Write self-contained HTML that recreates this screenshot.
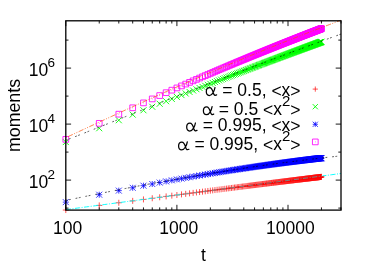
<!DOCTYPE html>
<html><head><meta charset="utf-8"><title>moments</title>
<style>html,body{margin:0;padding:0;background:#fff;}body{width:382px;height:267px;overflow:hidden;}svg{display:block;filter:blur(0.3px);}text{font-family:"Liberation Sans",sans-serif;fill:#000;}</style>
</head><body>
<svg width="382" height="267" viewBox="0 0 382 267">
<rect width="382" height="267" fill="#fff"/>
<path d="M62.80 210.06H68.80M65.80 207.06V213.06M96.24 205.42H102.24M99.24 202.42V208.42M115.81 202.75H121.81M118.81 199.75V205.75M129.69 200.87H135.69M132.69 197.87V203.87M140.46 199.43H146.46M143.46 196.43V202.43M149.25 198.25H155.25M152.25 195.25V201.25M156.69 197.27H162.69M159.69 194.27V200.27M163.13 196.41H169.13M166.13 193.41V199.41M168.82 195.66H174.82M171.82 192.66V198.66M173.90 195.00H179.90M176.90 192.00V198.00M178.50 194.39H184.50M181.50 191.39V197.39M182.70 193.85H188.70M185.70 190.85V196.85M186.56 193.34H192.56M189.56 190.34V196.34M190.13 192.88H196.13M193.13 189.88V195.88M193.46 192.45H199.46M196.46 189.45V195.45M196.58 192.04H202.58M199.58 189.04V195.04M199.50 191.66H205.50M202.50 188.66V194.66M202.26 191.31H208.26M205.26 188.31V194.31M204.87 190.97H210.87M207.87 187.97V193.97M207.34 190.65H213.34M210.34 187.65V193.65M209.70 190.35H215.70M212.70 187.35V193.35M211.94 190.06H217.94M214.94 187.06V193.06M214.09 189.79H220.09M217.09 186.79V192.79M216.14 189.53H222.14M219.14 186.53V192.53M218.11 189.28H224.11M221.11 186.28V192.28M220.00 189.03H226.00M223.00 186.03V192.03M221.82 188.80H227.82M224.82 185.80V191.80M223.58 188.58H229.58M226.58 185.58V191.58M225.27 188.36H231.27M228.27 185.36V191.36M226.91 188.16H232.91M229.91 185.16V191.16M228.49 187.96H234.49M231.49 184.96V190.96M230.02 187.76H236.02M233.02 184.76V190.76M231.51 187.57H237.51M234.51 184.57V190.57M232.95 187.39H238.95M235.95 184.39V190.39M234.35 187.21H240.35M237.35 184.21V190.21M235.71 187.04H241.71M238.71 184.04V190.04M237.03 186.88H243.03M240.03 183.88V189.88M238.31 186.71H244.31M241.31 183.71V189.71M239.57 186.56H245.57M242.57 183.56V189.56M240.79 186.40H246.79M243.79 183.40V189.40M241.98 186.25H247.98M244.98 183.25V189.25M243.14 186.11H249.14M246.14 183.11V189.11M244.28 185.96H250.28M247.28 182.96V188.96M245.39 185.82H251.39M248.39 182.82V188.82M246.47 185.69H252.47M249.47 182.69V188.69M247.53 185.55H253.53M250.53 182.55V188.55M248.57 185.42H254.57M251.57 182.42V188.42M249.59 185.30H255.59M252.59 182.30V188.30M250.58 185.17H256.58M253.58 182.17V188.17M251.56 185.05H257.56M254.56 182.05V188.05M252.51 184.93H258.51M255.51 181.93V187.93M253.45 184.81H259.45M256.45 181.81V187.81M254.37 184.70H260.37M257.37 181.70V187.70M255.27 184.59H261.27M258.27 181.59V187.59M256.15 184.48H262.15M259.15 181.48V187.48M257.02 184.37H263.02M260.02 181.37V187.37M257.88 184.26H263.88M260.88 181.26V187.26M258.72 184.16H264.72M261.72 181.16V187.16M259.54 184.06H265.54M262.54 181.06V187.06M260.35 183.95H266.35M263.35 180.95V186.95M261.15 183.86H267.15M264.15 180.86V186.86M261.93 183.76H267.93M264.93 180.76V186.76M262.71 183.66H268.71M265.71 180.66V186.66M263.47 183.57H269.47M266.47 180.57V186.57M264.21 183.48H270.21M267.21 180.48V186.48M264.95 183.38H270.95M267.95 180.38V186.38M265.68 183.29H271.68M268.68 180.29V186.29M266.39 183.21H272.39M269.39 180.21V186.21M267.10 183.12H273.10M270.10 180.12V186.12M267.79 183.03H273.79M270.79 180.03V186.03M268.47 182.95H274.47M271.47 179.95V185.95M269.15 182.86H275.15M272.15 179.86V185.86M269.82 182.78H275.82M272.82 179.78V185.78M270.47 182.70H276.47M273.47 179.70V185.70M271.12 182.62H277.12M274.12 179.62V185.62M271.76 182.54H277.76M274.76 179.54V185.54M272.39 182.46H278.39M275.39 179.46V185.46M273.01 182.39H279.01M276.01 179.39V185.39M273.63 182.31H279.63M276.63 179.31V185.31M274.23 182.24H280.23M277.23 179.24V185.24M274.83 182.16H280.83M277.83 179.16V185.16M275.42 182.09H281.42M278.42 179.09V185.09M276.01 182.02H282.01M279.01 179.02V185.02M276.59 181.95H282.59M279.59 178.95V184.95M277.16 181.88H283.16M280.16 178.88V184.88M277.72 181.81H283.72M280.72 178.81V184.81M278.28 181.74H284.28M281.28 178.74V184.74M278.83 181.67H284.83M281.83 178.67V184.67M279.38 181.60H285.38M282.38 178.60V184.60M279.92 181.54H285.92M282.92 178.54V184.54M280.45 181.47H286.45M283.45 178.47V184.47M280.98 181.41H286.98M283.98 178.41V184.41M281.50 181.34H287.50M284.50 178.34V184.34M282.01 181.28H288.01M285.01 178.28V184.28M282.53 181.22H288.53M285.53 178.22V184.22M283.03 181.16H289.03M286.03 178.16V184.16M283.53 181.10H289.53M286.53 178.10V184.10M284.03 181.03H290.03M287.03 178.03V184.03M284.52 180.97H290.52M287.52 177.97V183.97M285.00 180.92H291.00M288.00 177.92V183.92M285.48 180.86H291.48M288.48 177.86V183.86M285.96 180.80H291.96M288.96 177.80V183.80M286.43 180.74H292.43M289.43 177.74V183.74M286.89 180.68H292.89M289.89 177.68V183.68M287.35 180.63H293.35M290.35 177.63V183.63M287.81 180.57H293.81M290.81 177.57V183.57M288.26 180.52H294.26M291.26 177.52V183.52M288.71 180.46H294.71M291.71 177.46V183.46M289.16 180.41H295.16M292.16 177.41V183.41M289.60 180.35H295.60M292.60 177.35V183.35M290.04 180.30H296.04M293.04 177.30V183.30M290.47 180.25H296.47M293.47 177.25V183.25M290.90 180.20H296.90M293.90 177.20V183.20M291.32 180.14H297.32M294.32 177.14V183.14M291.74 180.09H297.74M294.74 177.09V183.09M292.16 180.04H298.16M295.16 177.04V183.04M292.58 179.99H298.58M295.58 176.99V182.99M292.99 179.94H298.99M295.99 176.94V182.94M293.39 179.89H299.39M296.39 176.89V182.89M293.80 179.84H299.80M296.80 176.84V182.84M294.20 179.79H300.20M297.20 176.79V182.79M294.59 179.75H300.59M297.59 176.75V182.75M294.99 179.70H300.99M297.99 176.70V182.70M295.38 179.65H301.38M298.38 176.65V182.65M295.77 179.60H301.77M298.77 176.60V182.60M296.15 179.56H302.15M299.15 176.56V182.56M296.53 179.51H302.53M299.53 176.51V182.51M296.91 179.46H302.91M299.91 176.46V182.46M297.29 179.42H303.29M300.29 176.42V182.42M297.66 179.37H303.66M300.66 176.37V182.37M298.03 179.33H304.03M301.03 176.33V182.33M298.40 179.28H304.40M301.40 176.28V182.28M298.76 179.24H304.76M301.76 176.24V182.24M299.12 179.20H305.12M302.12 176.20V182.20M299.48 179.15H305.48M302.48 176.15V182.15M299.84 179.11H305.84M302.84 176.11V182.11M300.19 179.07H306.19M303.19 176.07V182.07M300.54 179.02H306.54M303.54 176.02V182.02M300.89 178.98H306.89M303.89 175.98V181.98M301.23 178.94H307.23M304.23 175.94V181.94M301.58 178.90H307.58M304.58 175.90V181.90M301.92 178.86H307.92M304.92 175.86V181.86M302.26 178.82H308.26M305.26 175.82V181.82M302.59 178.78H308.59M305.59 175.78V181.78M302.93 178.73H308.93M305.93 175.73V181.73M303.26 178.69H309.26M306.26 175.69V181.69M303.59 178.66H309.59M306.59 175.66V181.66M303.92 178.62H309.92M306.92 175.62V181.62M304.24 178.58H310.24M307.24 175.58V181.58M304.56 178.54H310.56M307.56 175.54V181.54M304.88 178.50H310.88M307.88 175.50V181.50M305.20 178.46H311.20M308.20 175.46V181.46M305.52 178.42H311.52M308.52 175.42V181.42M305.83 178.38H311.83M308.83 175.38V181.38M306.15 178.35H312.15M309.15 175.35V181.35M306.46 178.31H312.46M309.46 175.31V181.31M306.76 178.27H312.76M309.76 175.27V181.27M307.07 178.23H313.07M310.07 175.23V181.23M307.38 178.20H313.38M310.38 175.20V181.20M307.68 178.16H313.68M310.68 175.16V181.16M307.98 178.13H313.98M310.98 175.13V181.13M308.28 178.09H314.28M311.28 175.09V181.09M308.57 178.05H314.57M311.57 175.05V181.05M308.87 178.02H314.87M311.87 175.02V181.02M309.16 177.98H315.16M312.16 174.98V180.98M309.45 177.95H315.45M312.45 174.95V180.95M309.74 177.91H315.74M312.74 174.91V180.91M310.03 177.88H316.03M313.03 174.88V180.88M310.32 177.84H316.32M313.32 174.84V180.84M310.60 177.81H316.60M313.60 174.81V180.81M310.89 177.78H316.89M313.89 174.78V180.78M311.17 177.74H317.17M314.17 174.74V180.74M311.45 177.71H317.45M314.45 174.71V180.71M311.73 177.67H317.73M314.73 174.67V180.67M312.00 177.64H318.00M315.00 174.64V180.64M312.28 177.61H318.28M315.28 174.61V180.61M312.55 177.58H318.55M315.55 174.58V180.58M312.82 177.54H318.82M315.82 174.54V180.54M313.09 177.51H319.09M316.09 174.51V180.51M313.36 177.48H319.36M316.36 174.48V180.48M313.63 177.45H319.63M316.63 174.45V180.45M313.89 177.41H319.89M316.89 174.41V180.41M314.16 177.38H320.16M317.16 174.38V180.38M314.42 177.35H320.42M317.42 174.35V180.35M314.68 177.32H320.68M317.68 174.32V180.32M314.94 177.29H320.94M317.94 174.29V180.29M315.20 177.26H321.20M318.20 174.26V180.26M315.46 177.23H321.46M318.46 174.23V180.23M315.71 177.20H321.71M318.71 174.20V180.20M315.97 177.16H321.97M318.97 174.16V180.16M316.22 177.13H322.22M319.22 174.13V180.13M316.47 177.10H322.47M319.47 174.10V180.10M316.73 177.07H322.73M319.73 174.07V180.07M316.97 177.04H322.97M319.97 174.04V180.04M317.22 177.01H323.22M320.22 174.01V180.01M317.47 176.99H323.47M320.47 173.99V179.99M317.72 176.96H323.72M320.72 173.96V179.96M317.96 176.93H323.96M320.96 173.93V179.93M318.20 176.90H324.20M321.20 173.90V179.90M318.44 176.87H324.44M321.44 173.87V179.87M312.70 89.10H317.90M315.30 86.50V91.70" fill="none" stroke="#ff0000" stroke-width="0.68"/>
<path d="M62.80 139.07L68.80 145.07M62.80 145.07L68.80 139.07M96.24 125.24L102.24 131.24M96.24 131.24L102.24 125.24M115.81 117.24L121.81 123.24M115.81 123.24L121.81 117.24M129.69 111.61L135.69 117.61M129.69 117.61L135.69 111.61M140.46 107.27L146.46 113.27M140.46 113.27L146.46 107.27M149.25 103.75L155.25 109.75M149.25 109.75L155.25 103.75M156.69 100.77L162.69 106.77M156.69 106.77L162.69 100.77M163.13 98.21L169.13 104.21M163.13 104.21L169.13 98.21M168.82 95.95L174.82 101.95M168.82 101.95L174.82 95.95M173.90 93.94L179.90 99.94M173.90 99.94L179.90 93.94M178.50 92.12L184.50 98.12M178.50 98.12L184.50 92.12M182.70 90.47L188.70 96.47M182.70 96.47L188.70 90.47M186.56 88.95L192.56 94.95M186.56 94.95L192.56 88.95M190.13 87.54L196.13 93.54M190.13 93.54L196.13 87.54M193.46 86.24L199.46 92.24M193.46 92.24L199.46 86.24M196.58 85.02L202.58 91.02M196.58 91.02L202.58 85.02M199.50 83.88L205.50 89.88M199.50 89.88L205.50 83.88M202.26 82.80L208.26 88.80M202.26 88.80L208.26 82.80M204.87 81.78L210.87 87.78M204.87 87.78L210.87 81.78M207.34 80.82L213.34 86.82M207.34 86.82L213.34 80.82M209.70 79.91L215.70 85.91M209.70 85.91L215.70 79.91M211.94 79.03L217.94 85.03M211.94 85.03L217.94 79.03M214.09 78.20L220.09 84.20M214.09 84.20L220.09 78.20M216.14 77.41L222.14 83.41M216.14 83.41L222.14 77.41M218.11 76.64L224.11 82.64M218.11 82.64L224.11 76.64M220.00 75.91L226.00 81.91M220.00 81.91L226.00 75.91M221.82 75.21L227.82 81.21M221.82 81.21L227.82 75.21M223.58 74.53L229.58 80.53M223.58 80.53L229.58 74.53M225.27 73.88L231.27 79.88M225.27 79.88L231.27 73.88M226.91 73.25L232.91 79.25M226.91 79.25L232.91 73.25M228.49 72.64L234.49 78.64M228.49 78.64L234.49 72.64M230.02 72.05L236.02 78.05M230.02 78.05L236.02 72.05M231.51 71.48L237.51 77.48M231.51 77.48L237.51 71.48M232.95 70.92L238.95 76.92M232.95 76.92L238.95 70.92M234.35 70.39L240.35 76.39M234.35 76.39L240.35 70.39M235.71 69.87L241.71 75.87M235.71 75.87L241.71 69.87M237.03 69.36L243.03 75.36M237.03 75.36L243.03 69.36M238.31 68.87L244.31 74.87M238.31 74.87L244.31 68.87M239.57 68.39L245.57 74.39M239.57 74.39L245.57 68.39M240.79 67.92L246.79 73.92M240.79 73.92L246.79 67.92M241.98 67.46L247.98 73.46M241.98 73.46L247.98 67.46M243.14 67.02L249.14 73.02M243.14 73.02L249.14 67.02M244.28 66.59L250.28 72.59M244.28 72.59L250.28 66.59M245.39 66.16L251.39 72.16M245.39 72.16L251.39 66.16M246.47 65.75L252.47 71.75M246.47 71.75L252.47 65.75M247.53 65.34L253.53 71.34M247.53 71.34L253.53 65.34M248.57 64.95L254.57 70.95M248.57 70.95L254.57 64.95M249.59 64.56L255.59 70.56M249.59 70.56L255.59 64.56M250.58 64.18L256.58 70.18M250.58 70.18L256.58 64.18M251.56 63.81L257.56 69.81M251.56 69.81L257.56 63.81M252.51 63.45L258.51 69.45M252.51 69.45L258.51 63.45M253.45 63.09L259.45 69.09M253.45 69.09L259.45 63.09M254.37 62.74L260.37 68.74M254.37 68.74L260.37 62.74M255.27 62.40L261.27 68.40M255.27 68.40L261.27 62.40M256.15 62.06L262.15 68.06M256.15 68.06L262.15 62.06M257.02 61.73L263.02 67.73M257.02 67.73L263.02 61.73M257.88 61.41L263.88 67.41M257.88 67.41L263.88 61.41M258.72 61.09L264.72 67.09M258.72 67.09L264.72 61.09M259.54 60.78L265.54 66.78M259.54 66.78L265.54 60.78M260.35 60.47L266.35 66.47M260.35 66.47L266.35 60.47M261.15 60.17L267.15 66.17M261.15 66.17L267.15 60.17M261.93 59.87L267.93 65.87M261.93 65.87L267.93 59.87M262.71 59.58L268.71 65.58M262.71 65.58L268.71 59.58M263.47 59.29L269.47 65.29M263.47 65.29L269.47 59.29M264.21 59.01L270.21 65.01M264.21 65.01L270.21 59.01M264.95 58.73L270.95 64.73M264.95 64.73L270.95 58.73M265.68 58.46L271.68 64.46M265.68 64.46L271.68 58.46M266.39 58.19L272.39 64.19M266.39 64.19L272.39 58.19M267.10 57.92L273.10 63.92M267.10 63.92L273.10 57.92M267.79 57.66L273.79 63.66M267.79 63.66L273.79 57.66M268.47 57.40L274.47 63.40M268.47 63.40L274.47 57.40M269.15 57.15L275.15 63.15M269.15 63.15L275.15 57.15M269.82 56.90L275.82 62.90M269.82 62.90L275.82 56.90M270.47 56.65L276.47 62.65M270.47 62.65L276.47 56.65M271.12 56.41L277.12 62.41M271.12 62.41L277.12 56.41M271.76 56.17L277.76 62.17M271.76 62.17L277.76 56.17M272.39 55.93L278.39 61.93M272.39 61.93L278.39 55.93M273.01 55.69L279.01 61.69M273.01 61.69L279.01 55.69M273.63 55.46L279.63 61.46M273.63 61.46L279.63 55.46M274.23 55.23L280.23 61.23M274.23 61.23L280.23 55.23M274.83 55.01L280.83 61.01M274.83 61.01L280.83 55.01M275.42 54.79L281.42 60.79M275.42 60.79L281.42 54.79M276.01 54.57L282.01 60.57M276.01 60.57L282.01 54.57M276.59 54.35L282.59 60.35M276.59 60.35L282.59 54.35M277.16 54.14L283.16 60.14M277.16 60.14L283.16 54.14M277.72 53.92L283.72 59.92M277.72 59.92L283.72 53.92M278.28 53.71L284.28 59.71M278.28 59.71L284.28 53.71M278.83 53.51L284.83 59.51M278.83 59.51L284.83 53.51M279.38 53.30L285.38 59.30M279.38 59.30L285.38 53.30M279.92 53.10L285.92 59.10M279.92 59.10L285.92 53.10M280.45 52.90L286.45 58.90M280.45 58.90L286.45 52.90M280.98 52.70L286.98 58.70M280.98 58.70L286.98 52.70M281.50 52.51L287.50 58.51M281.50 58.51L287.50 52.51M282.01 52.31L288.01 58.31M282.01 58.31L288.01 52.31M282.53 52.12L288.53 58.12M282.53 58.12L288.53 52.12M283.03 51.93L289.03 57.93M283.03 57.93L289.03 51.93M283.53 51.75L289.53 57.75M283.53 57.75L289.53 51.75M284.03 51.56L290.03 57.56M284.03 57.56L290.03 51.56M284.52 51.38L290.52 57.38M284.52 57.38L290.52 51.38M285.00 51.20L291.00 57.20M285.00 57.20L291.00 51.20M285.48 51.02L291.48 57.02M285.48 57.02L291.48 51.02M285.96 50.84L291.96 56.84M285.96 56.84L291.96 50.84M286.43 50.66L292.43 56.66M286.43 56.66L292.43 50.66M286.89 50.49L292.89 56.49M286.89 56.49L292.89 50.49M287.35 50.32L293.35 56.32M287.35 56.32L293.35 50.32M287.81 50.15L293.81 56.15M287.81 56.15L293.81 50.15M288.26 49.98L294.26 55.98M288.26 55.98L294.26 49.98M288.71 49.81L294.71 55.81M288.71 55.81L294.71 49.81M289.16 49.64L295.16 55.64M289.16 55.64L295.16 49.64M289.60 49.48L295.60 55.48M289.60 55.48L295.60 49.48M290.04 49.32L296.04 55.32M290.04 55.32L296.04 49.32M290.47 49.16L296.47 55.16M290.47 55.16L296.47 49.16M290.90 49.00L296.90 55.00M290.90 55.00L296.90 49.00M291.32 48.84L297.32 54.84M291.32 54.84L297.32 48.84M291.74 48.68L297.74 54.68M291.74 54.68L297.74 48.68M292.16 48.52L298.16 54.52M292.16 54.52L298.16 48.52M292.58 48.37L298.58 54.37M292.58 54.37L298.58 48.37M292.99 48.22L298.99 54.22M292.99 54.22L298.99 48.22M293.39 48.07L299.39 54.07M293.39 54.07L299.39 48.07M293.80 47.92L299.80 53.92M293.80 53.92L299.80 47.92M294.20 47.77L300.20 53.77M294.20 53.77L300.20 47.77M294.59 47.62L300.59 53.62M294.59 53.62L300.59 47.62M294.99 47.47L300.99 53.47M294.99 53.47L300.99 47.47M295.38 47.33L301.38 53.33M295.38 53.33L301.38 47.33M295.77 47.18L301.77 53.18M295.77 53.18L301.77 47.18M296.15 47.04L302.15 53.04M296.15 53.04L302.15 47.04M296.53 46.90L302.53 52.90M296.53 52.90L302.53 46.90M296.91 46.76L302.91 52.76M296.91 52.76L302.91 46.76M297.29 46.62L303.29 52.62M297.29 52.62L303.29 46.62M297.66 46.48L303.66 52.48M297.66 52.48L303.66 46.48M298.03 46.34L304.03 52.34M298.03 52.34L304.03 46.34M298.40 46.21L304.40 52.21M298.40 52.21L304.40 46.21M298.76 46.07L304.76 52.07M298.76 52.07L304.76 46.07M299.12 45.94L305.12 51.94M299.12 51.94L305.12 45.94M299.48 45.80L305.48 51.80M299.48 51.80L305.48 45.80M299.84 45.67L305.84 51.67M299.84 51.67L305.84 45.67M300.19 45.54L306.19 51.54M300.19 51.54L306.19 45.54M300.54 45.41L306.54 51.41M300.54 51.41L306.54 45.41M300.89 45.28L306.89 51.28M300.89 51.28L306.89 45.28M301.23 45.15L307.23 51.15M301.23 51.15L307.23 45.15M301.58 45.02L307.58 51.02M301.58 51.02L307.58 45.02M301.92 44.90L307.92 50.90M301.92 50.90L307.92 44.90M302.26 44.77L308.26 50.77M302.26 50.77L308.26 44.77M302.59 44.65L308.59 50.65M302.59 50.65L308.59 44.65M302.93 44.52L308.93 50.52M302.93 50.52L308.93 44.52M303.26 44.40L309.26 50.40M303.26 50.40L309.26 44.40M303.59 44.28L309.59 50.28M303.59 50.28L309.59 44.28M303.92 44.16L309.92 50.16M303.92 50.16L309.92 44.16M304.24 44.04L310.24 50.04M304.24 50.04L310.24 44.04M304.56 43.92L310.56 49.92M304.56 49.92L310.56 43.92M304.88 43.80L310.88 49.80M304.88 49.80L310.88 43.80M305.20 43.68L311.20 49.68M305.20 49.68L311.20 43.68M305.52 43.57L311.52 49.57M305.52 49.57L311.52 43.57M305.83 43.45L311.83 49.45M305.83 49.45L311.83 43.45M306.15 43.33L312.15 49.33M306.15 49.33L312.15 43.33M306.46 43.22L312.46 49.22M306.46 49.22L312.46 43.22M306.76 43.10L312.76 49.10M306.76 49.10L312.76 43.10M307.07 42.99L313.07 48.99M307.07 48.99L313.07 42.99M307.38 42.88L313.38 48.88M307.38 48.88L313.38 42.88M307.68 42.77L313.68 48.77M307.68 48.77L313.68 42.77M307.98 42.66L313.98 48.66M307.98 48.66L313.98 42.66M308.28 42.55L314.28 48.55M308.28 48.55L314.28 42.55M308.57 42.44L314.57 48.44M308.57 48.44L314.57 42.44M308.87 42.33L314.87 48.33M308.87 48.33L314.87 42.33M309.16 42.22L315.16 48.22M309.16 48.22L315.16 42.22M309.45 42.11L315.45 48.11M309.45 48.11L315.45 42.11M309.74 42.00L315.74 48.00M309.74 48.00L315.74 42.00M310.03 41.90L316.03 47.90M310.03 47.90L316.03 41.90M310.32 41.79L316.32 47.79M310.32 47.79L316.32 41.79M310.60 41.69L316.60 47.69M310.60 47.69L316.60 41.69M310.89 41.58L316.89 47.58M310.89 47.58L316.89 41.58M311.17 41.48L317.17 47.48M311.17 47.48L317.17 41.48M311.45 41.38L317.45 47.38M311.45 47.38L317.45 41.38M311.73 41.27L317.73 47.27M311.73 47.27L317.73 41.27M312.00 41.17L318.00 47.17M312.00 47.17L318.00 41.17M312.28 41.07L318.28 47.07M312.28 47.07L318.28 41.07M312.55 40.97L318.55 46.97M312.55 46.97L318.55 40.97M312.82 40.87L318.82 46.87M312.82 46.87L318.82 40.87M313.09 40.77L319.09 46.77M313.09 46.77L319.09 40.77M313.36 40.67L319.36 46.67M313.36 46.67L319.36 40.67M313.63 40.57L319.63 46.57M313.63 46.57L319.63 40.57M313.89 40.47L319.89 46.47M313.89 46.47L319.89 40.47M314.16 40.38L320.16 46.38M314.16 46.38L320.16 40.38M314.42 40.28L320.42 46.28M314.42 46.28L320.42 40.28M314.68 40.18L320.68 46.18M314.68 46.18L320.68 40.18M314.94 40.09L320.94 46.09M314.94 46.09L320.94 40.09M315.20 39.99L321.20 45.99M315.20 45.99L321.20 39.99M315.46 39.90L321.46 45.90M315.46 45.90L321.46 39.90M315.71 39.80L321.71 45.80M315.71 45.80L321.71 39.80M315.97 39.71L321.97 45.71M315.97 45.71L321.97 39.71M316.22 39.62L322.22 45.62M316.22 45.62L322.22 39.62M316.47 39.52L322.47 45.52M316.47 45.52L322.47 39.52M316.73 39.43L322.73 45.43M316.73 45.43L322.73 39.43M316.97 39.34L322.97 45.34M316.97 45.34L322.97 39.34M317.22 39.25L323.22 45.25M317.22 45.25L323.22 39.25M317.47 39.16L323.47 45.16M317.47 45.16L323.47 39.16M317.72 39.07L323.72 45.07M317.72 45.07L323.72 39.07M317.96 38.98L323.96 44.98M317.96 44.98L323.96 38.98M318.20 38.89L324.20 44.89M318.20 44.89L324.20 38.89M318.44 38.80L324.44 44.80M318.44 44.80L324.44 38.80M312.70 104.10L317.90 109.30M312.70 109.30L317.90 104.10" fill="none" stroke="#00ff00" stroke-width="0.9"/>
<path d="M62.80 202.13H68.80M65.80 199.13V205.13M62.80 199.13L68.80 205.13M62.80 205.13L68.80 199.13M96.24 194.72H102.24M99.24 191.72V197.72M96.24 191.72L102.24 197.72M96.24 197.72L102.24 191.72M115.81 190.62H121.81M118.81 187.62V193.62M115.81 187.62L121.81 193.62M115.81 193.62L121.81 187.62M129.69 187.81H135.69M132.69 184.81V190.81M129.69 184.81L135.69 190.81M129.69 190.81L135.69 184.81M140.46 185.69H146.46M143.46 182.69V188.69M140.46 182.69L146.46 188.69M140.46 188.69L146.46 182.69M149.25 184.00H155.25M152.25 181.00V187.00M149.25 181.00L155.25 187.00M149.25 187.00L155.25 181.00M156.69 182.59H162.69M159.69 179.59V185.59M156.69 179.59L162.69 185.59M156.69 185.59L162.69 179.59M163.13 181.40H169.13M166.13 178.40V184.40M163.13 178.40L169.13 184.40M163.13 184.40L169.13 178.40M168.82 180.35H174.82M171.82 177.35V183.35M168.82 177.35L174.82 183.35M168.82 183.35L174.82 177.35M173.90 179.44H179.90M176.90 176.44V182.44M173.90 176.44L179.90 182.44M173.90 182.44L179.90 176.44M178.50 178.61H184.50M181.50 175.61V181.61M178.50 175.61L184.50 181.61M178.50 181.61L184.50 175.61M182.70 177.87H188.70M185.70 174.87V180.87M182.70 174.87L188.70 180.87M182.70 180.87L188.70 174.87M186.56 177.20H192.56M189.56 174.20V180.20M186.56 174.20L192.56 180.20M186.56 180.20L192.56 174.20M190.13 176.58H196.13M193.13 173.58V179.58M190.13 173.58L196.13 179.58M190.13 179.58L196.13 173.58M193.46 176.00H199.46M196.46 173.00V179.00M193.46 173.00L199.46 179.00M193.46 179.00L199.46 173.00M196.58 175.47H202.58M199.58 172.47V178.47M196.58 172.47L202.58 178.47M196.58 178.47L202.58 172.47M199.50 174.98H205.50M202.50 171.98V177.98M199.50 171.98L205.50 177.98M199.50 177.98L205.50 171.98M202.26 174.52H208.26M205.26 171.52V177.52M202.26 171.52L208.26 177.52M202.26 177.52L208.26 171.52M204.87 174.08H210.87M207.87 171.08V177.08M204.87 171.08L210.87 177.08M204.87 177.08L210.87 171.08M207.34 173.67H213.34M210.34 170.67V176.67M207.34 170.67L213.34 176.67M207.34 176.67L213.34 170.67M209.70 173.29H215.70M212.70 170.29V176.29M209.70 170.29L215.70 176.29M209.70 176.29L215.70 170.29M211.94 172.92H217.94M214.94 169.92V175.92M211.94 169.92L217.94 175.92M211.94 175.92L217.94 169.92M214.09 172.57H220.09M217.09 169.57V175.57M214.09 169.57L220.09 175.57M214.09 175.57L220.09 169.57M216.14 172.24H222.14M219.14 169.24V175.24M216.14 169.24L222.14 175.24M216.14 175.24L222.14 169.24M218.11 171.92H224.11M221.11 168.92V174.92M218.11 168.92L224.11 174.92M218.11 174.92L224.11 168.92M220.00 171.62H226.00M223.00 168.62V174.62M220.00 168.62L226.00 174.62M220.00 174.62L226.00 168.62M221.82 171.33H227.82M224.82 168.33V174.33M221.82 168.33L227.82 174.33M221.82 174.33L227.82 168.33M223.58 171.05H229.58M226.58 168.05V174.05M223.58 168.05L229.58 174.05M223.58 174.05L229.58 168.05M225.27 170.79H231.27M228.27 167.79V173.79M225.27 167.79L231.27 173.79M225.27 173.79L231.27 167.79M226.91 170.53H232.91M229.91 167.53V173.53M226.91 167.53L232.91 173.53M226.91 173.53L232.91 167.53M228.49 170.29H234.49M231.49 167.29V173.29M228.49 167.29L234.49 173.29M228.49 173.29L234.49 167.29M230.02 170.05H236.02M233.02 167.05V173.05M230.02 167.05L236.02 173.05M230.02 173.05L236.02 167.05M231.51 169.82H237.51M234.51 166.82V172.82M231.51 166.82L237.51 172.82M231.51 172.82L237.51 166.82M232.95 169.60H238.95M235.95 166.60V172.60M232.95 166.60L238.95 172.60M232.95 172.60L238.95 166.60M234.35 169.38H240.35M237.35 166.38V172.38M234.35 166.38L240.35 172.38M234.35 172.38L240.35 166.38M235.71 169.18H241.71M238.71 166.18V172.18M235.71 166.18L241.71 172.18M235.71 172.18L241.71 166.18M237.03 168.97H243.03M240.03 165.97V171.97M237.03 165.97L243.03 171.97M237.03 171.97L243.03 165.97M238.31 168.78H244.31M241.31 165.78V171.78M238.31 165.78L244.31 171.78M238.31 171.78L244.31 165.78M239.57 168.59H245.57M242.57 165.59V171.59M239.57 165.59L245.57 171.59M239.57 171.59L245.57 165.59M240.79 168.41H246.79M243.79 165.41V171.41M240.79 165.41L246.79 171.41M240.79 171.41L246.79 165.41M241.98 168.23H247.98M244.98 165.23V171.23M241.98 165.23L247.98 171.23M241.98 171.23L247.98 165.23M243.14 168.05H249.14M246.14 165.05V171.05M243.14 165.05L249.14 171.05M243.14 171.05L249.14 165.05M244.28 167.89H250.28M247.28 164.89V170.89M244.28 164.89L250.28 170.89M244.28 170.89L250.28 164.89M245.39 167.72H251.39M248.39 164.72V170.72M245.39 164.72L251.39 170.72M245.39 170.72L251.39 164.72M246.47 167.56H252.47M249.47 164.56V170.56M246.47 164.56L252.47 170.56M246.47 170.56L252.47 164.56M247.53 167.40H253.53M250.53 164.40V170.40M247.53 164.40L253.53 170.40M247.53 170.40L253.53 164.40M248.57 167.25H254.57M251.57 164.25V170.25M248.57 164.25L254.57 170.25M248.57 170.25L254.57 164.25M249.59 167.10H255.59M252.59 164.10V170.10M249.59 164.10L255.59 170.10M249.59 170.10L255.59 164.10M250.58 166.96H256.58M253.58 163.96V169.96M250.58 163.96L256.58 169.96M250.58 169.96L256.58 163.96M251.56 166.82H257.56M254.56 163.82V169.82M251.56 163.82L257.56 169.82M251.56 169.82L257.56 163.82M252.51 166.68H258.51M255.51 163.68V169.68M252.51 163.68L258.51 169.68M252.51 169.68L258.51 163.68M253.45 166.54H259.45M256.45 163.54V169.54M253.45 163.54L259.45 169.54M253.45 169.54L259.45 163.54M254.37 166.41H260.37M257.37 163.41V169.41M254.37 163.41L260.37 169.41M254.37 169.41L260.37 163.41M255.27 166.28H261.27M258.27 163.28V169.28M255.27 163.28L261.27 169.28M255.27 169.28L261.27 163.28M256.15 166.15H262.15M259.15 163.15V169.15M256.15 163.15L262.15 169.15M256.15 169.15L262.15 163.15M257.02 166.03H263.02M260.02 163.03V169.03M257.02 163.03L263.02 169.03M257.02 169.03L263.02 163.03M257.88 165.91H263.88M260.88 162.91V168.91M257.88 162.91L263.88 168.91M257.88 168.91L263.88 162.91M258.72 165.79H264.72M261.72 162.79V168.79M258.72 162.79L264.72 168.79M258.72 168.79L264.72 162.79M259.54 165.67H265.54M262.54 162.67V168.67M259.54 162.67L265.54 168.67M259.54 168.67L265.54 162.67M260.35 165.55H266.35M263.35 162.55V168.55M260.35 162.55L266.35 168.55M260.35 168.55L266.35 162.55M261.15 165.44H267.15M264.15 162.44V168.44M261.15 162.44L267.15 168.44M261.15 168.44L267.15 162.44M261.93 165.33H267.93M264.93 162.33V168.33M261.93 162.33L267.93 168.33M261.93 168.33L267.93 162.33M262.71 165.22H268.71M265.71 162.22V168.22M262.71 162.22L268.71 168.22M262.71 168.22L268.71 162.22M263.47 165.12H269.47M266.47 162.12V168.12M263.47 162.12L269.47 168.12M263.47 168.12L269.47 162.12M264.21 165.01H270.21M267.21 162.01V168.01M264.21 162.01L270.21 168.01M264.21 168.01L270.21 162.01M264.95 164.91H270.95M267.95 161.91V167.91M264.95 161.91L270.95 167.91M264.95 167.91L270.95 161.91M265.68 164.81H271.68M268.68 161.81V167.81M265.68 161.81L271.68 167.81M265.68 167.81L271.68 161.81M266.39 164.71H272.39M269.39 161.71V167.71M266.39 161.71L272.39 167.71M266.39 167.71L272.39 161.71M267.10 164.61H273.10M270.10 161.61V167.61M267.10 161.61L273.10 167.61M267.10 167.61L273.10 161.61M267.79 164.51H273.79M270.79 161.51V167.51M267.79 161.51L273.79 167.51M267.79 167.51L273.79 161.51M268.47 164.42H274.47M271.47 161.42V167.42M268.47 161.42L274.47 167.42M268.47 167.42L274.47 161.42M269.15 164.33H275.15M272.15 161.33V167.33M269.15 161.33L275.15 167.33M269.15 167.33L275.15 161.33M269.82 164.24H275.82M272.82 161.24V167.24M269.82 161.24L275.82 167.24M269.82 167.24L275.82 161.24M270.47 164.15H276.47M273.47 161.15V167.15M270.47 161.15L276.47 167.15M270.47 167.15L276.47 161.15M271.12 164.06H277.12M274.12 161.06V167.06M271.12 161.06L277.12 167.06M271.12 167.06L277.12 161.06M271.76 163.97H277.76M274.76 160.97V166.97M271.76 160.97L277.76 166.97M271.76 166.97L277.76 160.97M272.39 163.88H278.39M275.39 160.88V166.88M272.39 160.88L278.39 166.88M272.39 166.88L278.39 160.88M273.01 163.80H279.01M276.01 160.80V166.80M273.01 160.80L279.01 166.80M273.01 166.80L279.01 160.80M273.63 163.72H279.63M276.63 160.72V166.72M273.63 160.72L279.63 166.72M273.63 166.72L279.63 160.72M274.23 163.63H280.23M277.23 160.63V166.63M274.23 160.63L280.23 166.63M274.23 166.63L280.23 160.63M274.83 163.55H280.83M277.83 160.55V166.55M274.83 160.55L280.83 166.55M274.83 166.55L280.83 160.55M275.42 163.47H281.42M278.42 160.47V166.47M275.42 160.47L281.42 166.47M275.42 166.47L281.42 160.47M276.01 163.39H282.01M279.01 160.39V166.39M276.01 160.39L282.01 166.39M276.01 166.39L282.01 160.39M276.59 163.32H282.59M279.59 160.32V166.32M276.59 160.32L282.59 166.32M276.59 166.32L282.59 160.32M277.16 163.24H283.16M280.16 160.24V166.24M277.16 160.24L283.16 166.24M277.16 166.24L283.16 160.24M277.72 163.16H283.72M280.72 160.16V166.16M277.72 160.16L283.72 166.16M277.72 166.16L283.72 160.16M278.28 163.09H284.28M281.28 160.09V166.09M278.28 160.09L284.28 166.09M278.28 166.09L284.28 160.09M278.83 163.02H284.83M281.83 160.02V166.02M278.83 160.02L284.83 166.02M278.83 166.02L284.83 160.02M279.38 162.94H285.38M282.38 159.94V165.94M279.38 159.94L285.38 165.94M279.38 165.94L285.38 159.94M279.92 162.87H285.92M282.92 159.87V165.87M279.92 159.87L285.92 165.87M279.92 165.87L285.92 159.87M280.45 162.80H286.45M283.45 159.80V165.80M280.45 159.80L286.45 165.80M280.45 165.80L286.45 159.80M280.98 162.73H286.98M283.98 159.73V165.73M280.98 159.73L286.98 165.73M280.98 165.73L286.98 159.73M281.50 162.66H287.50M284.50 159.66V165.66M281.50 159.66L287.50 165.66M281.50 165.66L287.50 159.66M282.01 162.59H288.01M285.01 159.59V165.59M282.01 159.59L288.01 165.59M282.01 165.59L288.01 159.59M282.53 162.53H288.53M285.53 159.53V165.53M282.53 159.53L288.53 165.53M282.53 165.53L288.53 159.53M283.03 162.46H289.03M286.03 159.46V165.46M283.03 159.46L289.03 165.46M283.03 165.46L289.03 159.46M283.53 162.40H289.53M286.53 159.40V165.40M283.53 159.40L289.53 165.40M283.53 165.40L289.53 159.40M284.03 162.33H290.03M287.03 159.33V165.33M284.03 159.33L290.03 165.33M284.03 165.33L290.03 159.33M284.52 162.27H290.52M287.52 159.27V165.27M284.52 159.27L290.52 165.27M284.52 165.27L290.52 159.27M285.00 162.20H291.00M288.00 159.20V165.20M285.00 159.20L291.00 165.20M285.00 165.20L291.00 159.20M285.48 162.14H291.48M288.48 159.14V165.14M285.48 159.14L291.48 165.14M285.48 165.14L291.48 159.14M285.96 162.08H291.96M288.96 159.08V165.08M285.96 159.08L291.96 165.08M285.96 165.08L291.96 159.08M286.43 162.02H292.43M289.43 159.02V165.02M286.43 159.02L292.43 165.02M286.43 165.02L292.43 159.02M286.89 161.96H292.89M289.89 158.96V164.96M286.89 158.96L292.89 164.96M286.89 164.96L292.89 158.96M287.35 161.90H293.35M290.35 158.90V164.90M287.35 158.90L293.35 164.90M287.35 164.90L293.35 158.90M287.81 161.84H293.81M290.81 158.84V164.84M287.81 158.84L293.81 164.84M287.81 164.84L293.81 158.84M288.26 161.78H294.26M291.26 158.78V164.78M288.26 158.78L294.26 164.78M288.26 164.78L294.26 158.78M288.71 161.72H294.71M291.71 158.72V164.72M288.71 158.72L294.71 164.72M288.71 164.72L294.71 158.72M289.16 161.66H295.16M292.16 158.66V164.66M289.16 158.66L295.16 164.66M289.16 164.66L295.16 158.66M289.60 161.61H295.60M292.60 158.61V164.61M289.60 158.61L295.60 164.61M289.60 164.61L295.60 158.61M290.04 161.55H296.04M293.04 158.55V164.55M290.04 158.55L296.04 164.55M290.04 164.55L296.04 158.55M290.47 161.50H296.47M293.47 158.50V164.50M290.47 158.50L296.47 164.50M290.47 164.50L296.47 158.50M290.90 161.44H296.90M293.90 158.44V164.44M290.90 158.44L296.90 164.44M290.90 164.44L296.90 158.44M291.32 161.39H297.32M294.32 158.39V164.39M291.32 158.39L297.32 164.39M291.32 164.39L297.32 158.39M291.74 161.33H297.74M294.74 158.33V164.33M291.74 158.33L297.74 164.33M291.74 164.33L297.74 158.33M292.16 161.28H298.16M295.16 158.28V164.28M292.16 158.28L298.16 164.28M292.16 164.28L298.16 158.28M292.58 161.23H298.58M295.58 158.23V164.23M292.58 158.23L298.58 164.23M292.58 164.23L298.58 158.23M292.99 161.17H298.99M295.99 158.17V164.17M292.99 158.17L298.99 164.17M292.99 164.17L298.99 158.17M293.39 161.12H299.39M296.39 158.12V164.12M293.39 158.12L299.39 164.12M293.39 164.12L299.39 158.12M293.80 161.07H299.80M296.80 158.07V164.07M293.80 158.07L299.80 164.07M293.80 164.07L299.80 158.07M294.20 161.02H300.20M297.20 158.02V164.02M294.20 158.02L300.20 164.02M294.20 164.02L300.20 158.02M294.59 160.97H300.59M297.59 157.97V163.97M294.59 157.97L300.59 163.97M294.59 163.97L300.59 157.97M294.99 160.92H300.99M297.99 157.92V163.92M294.99 157.92L300.99 163.92M294.99 163.92L300.99 157.92M295.38 160.87H301.38M298.38 157.87V163.87M295.38 157.87L301.38 163.87M295.38 163.87L301.38 157.87M295.77 160.82H301.77M298.77 157.82V163.82M295.77 157.82L301.77 163.82M295.77 163.82L301.77 157.82M296.15 160.78H302.15M299.15 157.78V163.78M296.15 157.78L302.15 163.78M296.15 163.78L302.15 157.78M296.53 160.73H302.53M299.53 157.73V163.73M296.53 157.73L302.53 163.73M296.53 163.73L302.53 157.73M296.91 160.68H302.91M299.91 157.68V163.68M296.91 157.68L302.91 163.68M296.91 163.68L302.91 157.68M297.29 160.63H303.29M300.29 157.63V163.63M297.29 157.63L303.29 163.63M297.29 163.63L303.29 157.63M297.66 160.59H303.66M300.66 157.59V163.59M297.66 157.59L303.66 163.59M297.66 163.59L303.66 157.59M298.03 160.54H304.03M301.03 157.54V163.54M298.03 157.54L304.03 163.54M298.03 163.54L304.03 157.54M298.40 160.49H304.40M301.40 157.49V163.49M298.40 157.49L304.40 163.49M298.40 163.49L304.40 157.49M298.76 160.45H304.76M301.76 157.45V163.45M298.76 157.45L304.76 163.45M298.76 163.45L304.76 157.45M299.12 160.40H305.12M302.12 157.40V163.40M299.12 157.40L305.12 163.40M299.12 163.40L305.12 157.40M299.48 160.36H305.48M302.48 157.36V163.36M299.48 157.36L305.48 163.36M299.48 163.36L305.48 157.36M299.84 160.32H305.84M302.84 157.32V163.32M299.84 157.32L305.84 163.32M299.84 163.32L305.84 157.32M300.19 160.27H306.19M303.19 157.27V163.27M300.19 157.27L306.19 163.27M300.19 163.27L306.19 157.27M300.54 160.23H306.54M303.54 157.23V163.23M300.54 157.23L306.54 163.23M300.54 163.23L306.54 157.23M300.89 160.19H306.89M303.89 157.19V163.19M300.89 157.19L306.89 163.19M300.89 163.19L306.89 157.19M301.23 160.14H307.23M304.23 157.14V163.14M301.23 157.14L307.23 163.14M301.23 163.14L307.23 157.14M301.58 160.10H307.58M304.58 157.10V163.10M301.58 157.10L307.58 163.10M301.58 163.10L307.58 157.10M301.92 160.06H307.92M304.92 157.06V163.06M301.92 157.06L307.92 163.06M301.92 163.06L307.92 157.06M302.26 160.02H308.26M305.26 157.02V163.02M302.26 157.02L308.26 163.02M302.26 163.02L308.26 157.02M302.59 159.98H308.59M305.59 156.98V162.98M302.59 156.98L308.59 162.98M302.59 162.98L308.59 156.98M302.93 159.93H308.93M305.93 156.93V162.93M302.93 156.93L308.93 162.93M302.93 162.93L308.93 156.93M303.26 159.89H309.26M306.26 156.89V162.89M303.26 156.89L309.26 162.89M303.26 162.89L309.26 156.89M303.59 159.85H309.59M306.59 156.85V162.85M303.59 156.85L309.59 162.85M303.59 162.85L309.59 156.85M303.92 159.81H309.92M306.92 156.81V162.81M303.92 156.81L309.92 162.81M303.92 162.81L309.92 156.81M304.24 159.77H310.24M307.24 156.77V162.77M304.24 156.77L310.24 162.77M304.24 162.77L310.24 156.77M304.56 159.73H310.56M307.56 156.73V162.73M304.56 156.73L310.56 162.73M304.56 162.73L310.56 156.73M304.88 159.70H310.88M307.88 156.70V162.70M304.88 156.70L310.88 162.70M304.88 162.70L310.88 156.70M305.20 159.66H311.20M308.20 156.66V162.66M305.20 156.66L311.20 162.66M305.20 162.66L311.20 156.66M305.52 159.62H311.52M308.52 156.62V162.62M305.52 156.62L311.52 162.62M305.52 162.62L311.52 156.62M305.83 159.58H311.83M308.83 156.58V162.58M305.83 156.58L311.83 162.58M305.83 162.58L311.83 156.58M306.15 159.54H312.15M309.15 156.54V162.54M306.15 156.54L312.15 162.54M306.15 162.54L312.15 156.54M306.46 159.50H312.46M309.46 156.50V162.50M306.46 156.50L312.46 162.50M306.46 162.50L312.46 156.50M306.76 159.47H312.76M309.76 156.47V162.47M306.76 156.47L312.76 162.47M306.76 162.47L312.76 156.47M307.07 159.43H313.07M310.07 156.43V162.43M307.07 156.43L313.07 162.43M307.07 162.43L313.07 156.43M307.38 159.39H313.38M310.38 156.39V162.39M307.38 156.39L313.38 162.39M307.38 162.39L313.38 156.39M307.68 159.36H313.68M310.68 156.36V162.36M307.68 156.36L313.68 162.36M307.68 162.36L313.68 156.36M307.98 159.32H313.98M310.98 156.32V162.32M307.98 156.32L313.98 162.32M307.98 162.32L313.98 156.32M308.28 159.28H314.28M311.28 156.28V162.28M308.28 156.28L314.28 162.28M308.28 162.28L314.28 156.28M308.57 159.25H314.57M311.57 156.25V162.25M308.57 156.25L314.57 162.25M308.57 162.25L314.57 156.25M308.87 159.21H314.87M311.87 156.21V162.21M308.87 156.21L314.87 162.21M308.87 162.21L314.87 156.21M309.16 159.18H315.16M312.16 156.18V162.18M309.16 156.18L315.16 162.18M309.16 162.18L315.16 156.18M309.45 159.14H315.45M312.45 156.14V162.14M309.45 156.14L315.45 162.14M309.45 162.14L315.45 156.14M309.74 159.11H315.74M312.74 156.11V162.11M309.74 156.11L315.74 162.11M309.74 162.11L315.74 156.11M310.03 159.07H316.03M313.03 156.07V162.07M310.03 156.07L316.03 162.07M310.03 162.07L316.03 156.07M310.32 159.04H316.32M313.32 156.04V162.04M310.32 156.04L316.32 162.04M310.32 162.04L316.32 156.04M310.60 159.01H316.60M313.60 156.01V162.01M310.60 156.01L316.60 162.01M310.60 162.01L316.60 156.01M310.89 158.97H316.89M313.89 155.97V161.97M310.89 155.97L316.89 161.97M310.89 161.97L316.89 155.97M311.17 158.94H317.17M314.17 155.94V161.94M311.17 155.94L317.17 161.94M311.17 161.94L317.17 155.94M311.45 158.91H317.45M314.45 155.91V161.91M311.45 155.91L317.45 161.91M311.45 161.91L317.45 155.91M311.73 158.87H317.73M314.73 155.87V161.87M311.73 155.87L317.73 161.87M311.73 161.87L317.73 155.87M312.00 158.84H318.00M315.00 155.84V161.84M312.00 155.84L318.00 161.84M312.00 161.84L318.00 155.84M312.28 158.81H318.28M315.28 155.81V161.81M312.28 155.81L318.28 161.81M312.28 161.81L318.28 155.81M312.55 158.78H318.55M315.55 155.78V161.78M312.55 155.78L318.55 161.78M312.55 161.78L318.55 155.78M312.82 158.74H318.82M315.82 155.74V161.74M312.82 155.74L318.82 161.74M312.82 161.74L318.82 155.74M313.09 158.71H319.09M316.09 155.71V161.71M313.09 155.71L319.09 161.71M313.09 161.71L319.09 155.71M313.36 158.68H319.36M316.36 155.68V161.68M313.36 155.68L319.36 161.68M313.36 161.68L319.36 155.68M313.63 158.65H319.63M316.63 155.65V161.65M313.63 155.65L319.63 161.65M313.63 161.65L319.63 155.65M313.89 158.62H319.89M316.89 155.62V161.62M313.89 155.62L319.89 161.62M313.89 161.62L319.89 155.62M314.16 158.59H320.16M317.16 155.59V161.59M314.16 155.59L320.16 161.59M314.16 161.59L320.16 155.59M314.42 158.55H320.42M317.42 155.55V161.55M314.42 155.55L320.42 161.55M314.42 161.55L320.42 155.55M314.68 158.52H320.68M317.68 155.52V161.52M314.68 155.52L320.68 161.52M314.68 161.52L320.68 155.52M314.94 158.49H320.94M317.94 155.49V161.49M314.94 155.49L320.94 161.49M314.94 161.49L320.94 155.49M315.20 158.46H321.20M318.20 155.46V161.46M315.20 155.46L321.20 161.46M315.20 161.46L321.20 155.46M315.46 158.43H321.46M318.46 155.43V161.43M315.46 155.43L321.46 161.43M315.46 161.43L321.46 155.43M315.71 158.40H321.71M318.71 155.40V161.40M315.71 155.40L321.71 161.40M315.71 161.40L321.71 155.40M315.97 158.37H321.97M318.97 155.37V161.37M315.97 155.37L321.97 161.37M315.97 161.37L321.97 155.37M316.22 158.34H322.22M319.22 155.34V161.34M316.22 155.34L322.22 161.34M316.22 161.34L322.22 155.34M316.47 158.31H322.47M319.47 155.31V161.31M316.47 155.31L322.47 161.31M316.47 161.31L322.47 155.31M316.73 158.29H322.73M319.73 155.29V161.29M316.73 155.29L322.73 161.29M316.73 161.29L322.73 155.29M316.97 158.26H322.97M319.97 155.26V161.26M316.97 155.26L322.97 161.26M316.97 161.26L322.97 155.26M317.22 158.23H323.22M320.22 155.23V161.23M317.22 155.23L323.22 161.23M317.22 161.23L323.22 155.23M317.47 158.20H323.47M320.47 155.20V161.20M317.47 155.20L323.47 161.20M317.47 161.20L323.47 155.20M317.72 158.17H323.72M320.72 155.17V161.17M317.72 155.17L323.72 161.17M317.72 161.17L323.72 155.17M317.96 158.14H323.96M320.96 155.14V161.14M317.96 155.14L323.96 161.14M317.96 161.14L323.96 155.14M318.20 158.11H324.20M321.20 155.11V161.11M318.20 155.11L324.20 161.11M318.20 161.11L324.20 155.11M318.44 158.09H324.44M321.44 155.09V161.09M318.44 155.09L324.44 161.09M318.44 161.09L324.44 155.09M312.70 124.30H317.90M315.30 121.70V126.90M312.70 121.70L317.90 126.90M312.70 126.90L317.90 121.70" fill="none" stroke="#0000ff" stroke-width="0.75"/>
<path d="M62.95 136.50H68.65V142.20H62.95Z M65.50 139.35h0.6M96.39 120.49H102.09V126.19H96.39Z M98.94 123.34h0.6M115.96 111.33H121.66V117.03H115.96Z M118.51 114.18h0.6M129.84 104.93H135.54V110.63H129.84Z M132.39 107.78h0.6M140.61 100.02H146.31V105.72H140.61Z M143.16 102.87h0.6M149.40 96.05H155.10V101.75H149.40Z M151.95 98.90h0.6M156.84 92.71H162.54V98.41H156.84Z M159.39 95.56h0.6M163.28 89.84H168.98V95.54H163.28Z M165.83 92.69h0.6M168.97 87.32H174.67V93.02H168.97Z M171.52 90.17h0.6M174.05 85.07H179.75V90.77H174.05Z M176.60 87.92h0.6M178.65 83.05H184.35V88.75H178.65Z M181.20 85.90h0.6M182.85 81.22H188.55V86.92H182.85Z M185.40 84.07h0.6M186.71 79.54H192.41V85.24H186.71Z M189.26 82.39h0.6M190.28 77.98H195.98V83.68H190.28Z M192.83 80.83h0.6M193.61 76.54H199.31V82.24H193.61Z M196.16 79.39h0.6M196.73 75.20H202.43V80.90H196.73Z M199.28 78.05h0.6M199.65 73.94H205.35V79.64H199.65Z M202.20 76.79h0.6M202.41 72.76H208.11V78.46H202.41Z M204.96 75.61h0.6M205.02 71.64H210.72V77.34H205.02Z M207.57 74.49h0.6M207.49 70.59H213.19V76.29H207.49Z M210.04 73.44h0.6M209.85 69.58H215.55V75.28H209.85Z M212.40 72.43h0.6M212.09 68.63H217.79V74.33H212.09Z M214.64 71.48h0.6M214.24 67.72H219.94V73.42H214.24Z M216.79 70.57h0.6M216.29 66.85H221.99V72.55H216.29Z M218.84 69.70h0.6M218.26 66.02H223.96V71.72H218.26Z M220.81 68.87h0.6M220.15 65.22H225.85V70.92H220.15Z M222.70 68.07h0.6M221.97 64.46H227.67V70.16H221.97Z M224.52 67.31h0.6M223.73 63.72H229.43V69.42H223.73Z M226.28 66.57h0.6M225.42 63.01H231.12V68.71H225.42Z M227.97 65.86h0.6M227.06 62.32H232.76V68.02H227.06Z M229.61 65.17h0.6M228.64 61.66H234.34V67.36H228.64Z M231.19 64.51h0.6M230.17 61.02H235.87V66.72H230.17Z M232.72 63.87h0.6M231.66 60.41H237.36V66.11H231.66Z M234.21 63.26h0.6M233.10 59.81H238.80V65.51H233.10Z M235.65 62.66h0.6M234.50 59.22H240.20V64.92H234.50Z M237.05 62.07h0.6M235.86 58.66H241.56V64.36H235.86Z M238.41 61.51h0.6M237.18 58.11H242.88V63.81H237.18Z M239.73 60.96h0.6M238.46 57.58H244.16V63.28H238.46Z M241.01 60.43h0.6M239.72 57.06H245.42V62.76H239.72Z M242.27 59.91h0.6M240.94 56.56H246.64V62.26H240.94Z M243.49 59.41h0.6M242.13 56.07H247.83V61.77H242.13Z M244.68 58.92h0.6M243.29 55.59H248.99V61.29H243.29Z M245.84 58.44h0.6M244.43 55.12H250.13V60.82H244.43Z M246.98 57.97h0.6M245.54 54.67H251.24V60.37H245.54Z M248.09 57.52h0.6M246.62 54.22H252.32V59.92H246.62Z M249.17 57.07h0.6M247.68 53.79H253.38V59.49H247.68Z M250.23 56.64h0.6M248.72 53.36H254.42V59.06H248.72Z M251.27 56.21h0.6M249.74 52.94H255.44V58.64H249.74Z M252.29 55.79h0.6M250.73 52.54H256.43V58.24H250.73Z M253.28 55.39h0.6M251.71 52.14H257.41V57.84H251.71Z M254.26 54.99h0.6M252.66 51.75H258.36V57.45H252.66Z M255.21 54.60h0.6M253.60 51.37H259.30V57.07H253.60Z M256.15 54.22h0.6M254.52 50.99H260.22V56.69H254.52Z M257.07 53.84h0.6M255.42 50.63H261.12V56.33H255.42Z M257.97 53.48h0.6M256.30 50.27H262.00V55.97H256.30Z M258.85 53.12h0.6M257.17 49.91H262.87V55.61H257.17Z M259.72 52.76h0.6M258.03 49.57H263.73V55.27H258.03Z M260.58 52.42h0.6M258.87 49.23H264.57V54.93H258.87Z M261.42 52.08h0.6M259.69 48.89H265.39V54.59H259.69Z M262.24 51.74h0.6M260.50 48.57H266.20V54.27H260.50Z M263.05 51.42h0.6M261.30 48.24H267.00V53.94H261.30Z M263.85 51.09h0.6M262.08 47.93H267.78V53.63H262.08Z M264.63 50.78h0.6M262.86 47.61H268.56V53.31H262.86Z M265.41 50.46h0.6M263.62 47.31H269.32V53.01H263.62Z M266.17 50.16h0.6M264.36 47.01H270.06V52.71H264.36Z M266.91 49.86h0.6M265.10 46.71H270.80V52.41H265.10Z M267.65 49.56h0.6M265.83 46.42H271.53V52.12H265.83Z M268.38 49.27h0.6M266.54 46.13H272.24V51.83H266.54Z M269.09 48.98h0.6M267.25 45.85H272.95V51.55H267.25Z M269.80 48.70h0.6M267.94 45.57H273.64V51.27H267.94Z M270.49 48.42h0.6M268.62 45.29H274.32V50.99H268.62Z M271.17 48.14h0.6M269.30 45.02H275.00V50.72H269.30Z M271.85 47.87h0.6M269.97 44.76H275.67V50.46H269.97Z M272.52 47.61h0.6M270.62 44.49H276.32V50.19H270.62Z M273.17 47.34h0.6M271.27 44.23H276.97V49.93H271.27Z M273.82 47.08h0.6M271.91 43.98H277.61V49.68H271.91Z M274.46 46.83h0.6M272.54 43.73H278.24V49.43H272.54Z M275.09 46.58h0.6M273.16 43.48H278.86V49.18H273.16Z M275.71 46.33h0.6M273.78 43.23H279.48V48.93H273.78Z M276.33 46.08h0.6M274.38 42.99H280.08V48.69H274.38Z M276.93 45.84h0.6M274.98 42.75H280.68V48.45H274.98Z M277.53 45.60h0.6M275.57 42.52H281.27V48.22H275.57Z M278.12 45.37h0.6M276.16 42.28H281.86V47.98H276.16Z M278.71 45.13h0.6M276.74 42.05H282.44V47.75H276.74Z M279.29 44.90h0.6M277.31 41.83H283.01V47.53H277.31Z M279.86 44.68h0.6M277.87 41.60H283.57V47.30H277.87Z M280.42 44.45h0.6M278.43 41.38H284.13V47.08H278.43Z M280.98 44.23h0.6M278.98 41.16H284.68V46.86H278.98Z M281.53 44.01h0.6M279.53 40.94H285.23V46.64H279.53Z M282.08 43.79h0.6M280.07 40.73H285.77V46.43H280.07Z M282.62 43.58h0.6M280.60 40.52H286.30V46.22H280.60Z M283.15 43.37h0.6M281.13 40.31H286.83V46.01H281.13Z M283.68 43.16h0.6M281.65 40.10H287.35V45.80H281.65Z M284.20 42.95h0.6M282.16 39.90H287.86V45.60H282.16Z M284.71 42.75h0.6M282.68 39.70H288.38V45.40H282.68Z M285.23 42.55h0.6M283.18 39.50H288.88V45.20H283.18Z M285.73 42.35h0.6M283.68 39.30H289.38V45.00H283.68Z M286.23 42.15h0.6M284.18 39.11H289.88V44.81H284.18Z M286.73 41.96h0.6M284.67 38.91H290.37V44.61H284.67Z M287.22 41.76h0.6M285.15 38.72H290.85V44.42H285.15Z M287.70 41.57h0.6M285.63 38.53H291.33V44.23H285.63Z M288.18 41.38h0.6M286.11 38.34H291.81V44.04H286.11Z M288.66 41.19h0.6M286.58 38.16H292.28V43.86H286.58Z M289.13 41.01h0.6M287.04 37.98H292.74V43.68H287.04Z M289.59 40.83h0.6M287.50 37.79H293.20V43.49H287.50Z M290.05 40.64h0.6M287.96 37.61H293.66V43.31H287.96Z M290.51 40.46h0.6M288.41 37.44H294.11V43.14H288.41Z M290.96 40.29h0.6M288.86 37.26H294.56V42.96H288.86Z M291.41 40.11h0.6M289.31 37.08H295.01V42.78H289.31Z M291.86 39.93h0.6M289.75 36.91H295.45V42.61H289.75Z M292.30 39.76h0.6M290.19 36.74H295.89V42.44H290.19Z M292.74 39.59h0.6M290.62 36.57H296.32V42.27H290.62Z M293.17 39.42h0.6M291.05 36.40H296.75V42.10H291.05Z M293.60 39.25h0.6M291.47 36.24H297.17V41.94H291.47Z M294.02 39.09h0.6M291.89 36.07H297.59V41.77H291.89Z M294.44 38.92h0.6M292.31 35.91H298.01V41.61H292.31Z M294.86 38.76h0.6M292.73 35.75H298.43V41.45H292.73Z M295.28 38.60h0.6M293.14 35.58H298.84V41.28H293.14Z M295.69 38.43h0.6M293.54 35.43H299.24V41.13H293.54Z M296.09 38.28h0.6M293.95 35.27H299.65V40.97H293.95Z M296.50 38.12h0.6M294.35 35.11H300.05V40.81H294.35Z M296.90 37.96h0.6M294.74 34.96H300.44V40.66H294.74Z M297.29 37.81h0.6M295.14 34.80H300.84V40.50H295.14Z M297.69 37.65h0.6M295.53 34.65H301.23V40.35H295.53Z M298.08 37.50h0.6M295.92 34.50H301.62V40.20H295.92Z M298.47 37.35h0.6M296.30 34.35H302.00V40.05H296.30Z M298.85 37.20h0.6M296.68 34.20H302.38V39.90H296.68Z M299.23 37.05h0.6M297.06 34.05H302.76V39.75H297.06Z M299.61 36.90h0.6M297.44 33.91H303.14V39.61H297.44Z M299.99 36.76h0.6M297.81 33.76H303.51V39.46H297.81Z M300.36 36.61h0.6M298.18 33.62H303.88V39.32H298.18Z M300.73 36.47h0.6M298.55 33.47H304.25V39.17H298.55Z M301.10 36.32h0.6M298.91 33.33H304.61V39.03H298.91Z M301.46 36.18h0.6M299.27 33.19H304.97V38.89H299.27Z M301.82 36.04h0.6M299.63 33.05H305.33V38.75H299.63Z M302.18 35.90h0.6M299.99 32.92H305.69V38.62H299.99Z M302.54 35.77h0.6M300.34 32.78H306.04V38.48H300.34Z M302.89 35.63h0.6M300.69 32.64H306.39V38.34H300.69Z M303.24 35.49h0.6M301.04 32.51H306.74V38.21H301.04Z M303.59 35.36h0.6M301.38 32.37H307.08V38.07H301.38Z M303.93 35.22h0.6M301.73 32.24H307.43V37.94H301.73Z M304.28 35.09h0.6M302.07 32.11H307.77V37.81H302.07Z M304.62 34.96h0.6M302.41 31.98H308.11V37.68H302.41Z M304.96 34.83h0.6M302.74 31.85H308.44V37.55H302.74Z M305.29 34.70h0.6M303.08 31.72H308.78V37.42H303.08Z M305.63 34.57h0.6M303.41 31.59H309.11V37.29H303.41Z M305.96 34.44h0.6M303.74 31.46H309.44V37.16H303.74Z M306.29 34.31h0.6M304.07 31.33H309.77V37.03H304.07Z M306.62 34.18h0.6M304.39 31.21H310.09V36.91H304.39Z M306.94 34.06h0.6M304.71 31.08H310.41V36.78H304.71Z M307.26 33.93h0.6M305.03 30.96H310.73V36.66H305.03Z M307.58 33.81h0.6M305.35 30.84H311.05V36.54H305.35Z M307.90 33.69h0.6M305.67 30.72H311.37V36.42H305.67Z M308.22 33.57h0.6M305.98 30.59H311.68V36.29H305.98Z M308.53 33.44h0.6M306.30 30.47H312.00V36.17H306.30Z M308.85 33.32h0.6M306.61 30.35H312.31V36.05H306.61Z M309.16 33.20h0.6M306.91 30.24H312.61V35.94H306.91Z M309.46 33.09h0.6M307.22 30.12H312.92V35.82H307.22Z M309.77 32.97h0.6M307.53 30.00H313.23V35.70H307.53Z M310.08 32.85h0.6M307.83 29.88H313.53V35.58H307.83Z M310.38 32.73h0.6M308.13 29.77H313.83V35.47H308.13Z M310.68 32.62h0.6M308.43 29.65H314.13V35.35H308.43Z M310.98 32.50h0.6M308.72 29.54H314.42V35.24H308.72Z M311.27 32.39h0.6M309.02 29.42H314.72V35.12H309.02Z M311.57 32.27h0.6M309.31 29.31H315.01V35.01H309.31Z M311.86 32.16h0.6M309.60 29.20H315.30V34.90H309.60Z M312.15 32.05h0.6M309.89 29.09H315.59V34.79H309.89Z M312.44 31.94h0.6M310.18 28.98H315.88V34.68H310.18Z M312.73 31.83h0.6M310.47 28.87H316.17V34.57H310.47Z M313.02 31.72h0.6M310.75 28.76H316.45V34.46H310.75Z M313.30 31.61h0.6M311.04 28.65H316.74V34.35H311.04Z M313.59 31.50h0.6M311.32 28.54H317.02V34.24H311.32Z M313.87 31.39h0.6M311.60 28.43H317.30V34.13H311.60Z M314.15 31.28h0.6M311.88 28.33H317.58V34.03H311.88Z M314.43 31.18h0.6M312.15 28.22H317.85V33.92H312.15Z M314.70 31.07h0.6M312.43 28.12H318.13V33.82H312.43Z M314.98 30.97h0.6M312.70 28.01H318.40V33.71H312.70Z M315.25 30.86h0.6M312.97 27.91H318.67V33.61H312.97Z M315.52 30.76h0.6M313.24 27.80H318.94V33.50H313.24Z M315.79 30.65h0.6M313.51 27.70H319.21V33.40H313.51Z M316.06 30.55h0.6M313.78 27.60H319.48V33.30H313.78Z M316.33 30.45h0.6M314.04 27.50H319.74V33.20H314.04Z M316.59 30.35h0.6M314.31 27.40H320.01V33.10H314.31Z M316.86 30.25h0.6M314.57 27.30H320.27V33.00H314.57Z M317.12 30.15h0.6M314.83 27.20H320.53V32.90H314.83Z M317.38 30.05h0.6M315.09 27.10H320.79V32.80H315.09Z M317.64 29.95h0.6M315.35 27.00H321.05V32.70H315.35Z M317.90 29.85h0.6M315.61 26.90H321.31V32.60H315.61Z M318.16 29.75h0.6M315.86 26.80H321.56V32.50H315.86Z M318.41 29.65h0.6M316.12 26.70H321.82V32.40H316.12Z M318.67 29.55h0.6M316.37 26.61H322.07V32.31H316.37Z M318.92 29.46h0.6M316.62 26.51H322.32V32.21H316.62Z M319.17 29.36h0.6M316.88 26.42H322.58V32.12H316.88Z M319.43 29.27h0.6M317.12 26.32H322.82V32.02H317.12Z M319.67 29.17h0.6M317.37 26.23H323.07V31.93H317.37Z M319.92 29.08h0.6M317.62 26.13H323.32V31.83H317.62Z M320.17 28.98h0.6M317.87 26.04H323.57V31.74H317.87Z M320.42 28.89h0.6M318.11 25.95H323.81V31.65H318.11Z M320.66 28.80h0.6M318.35 25.85H324.05V31.55H318.35Z M320.90 28.70h0.6M318.59 25.76H324.29V31.46H318.59Z M321.14 28.61h0.6M312.45 139.05H318.15V144.75H312.45Z M315.00 141.90h0.6" fill="none" stroke="#ff00ff" stroke-width="0.85"/>
<defs><clipPath id="cin"><rect x="185" y="0" width="138" height="267"/></clipPath><clipPath id="cout"><rect x="0" y="0" width="185" height="267"/><rect x="323" y="0" width="60" height="267"/></clipPath></defs>
<polyline clip-path="url(#cout)" points="65.80,209.60 68.09,209.30 70.39,209.00 72.68,208.70 74.97,208.40 77.27,208.10 79.56,207.79 81.85,207.49 84.15,207.19 86.44,206.89 88.73,206.59 91.03,206.29 93.32,205.99 95.61,205.69 97.91,205.39 100.20,205.09 102.49,204.79 104.79,204.49 107.08,204.19 109.37,203.88 111.67,203.58 113.96,203.28 116.25,202.98 118.55,202.68 120.84,202.38 123.13,202.08 125.43,201.78 127.72,201.48 130.01,201.18 132.31,200.88 134.60,200.57 136.89,200.27 139.19,199.97 141.48,199.67 143.77,199.37 146.07,199.07 148.36,198.77 150.65,198.47 152.95,198.17 155.24,197.87 157.53,197.57 159.83,197.27 162.12,196.97 164.41,196.66 166.71,196.36 169.00,196.06 171.29,195.76 173.59,195.46 175.88,195.16 178.17,194.86 180.47,194.56 182.76,194.26 185.05,193.96 187.35,193.66 189.64,193.35 191.93,193.05 194.23,192.75 196.52,192.45 198.81,192.15 201.11,191.85 203.40,191.55 205.69,191.25 207.99,190.95 210.28,190.65 212.57,190.35 214.87,190.05 217.16,189.75 219.45,189.44 221.75,189.14 224.04,188.84 226.33,188.54 228.63,188.24 230.92,187.94 233.21,187.64 235.51,187.34 237.80,187.04 240.09,186.74 242.39,186.44 244.68,186.13 246.97,185.83 249.27,185.53 251.56,185.23 253.85,184.93 256.15,184.63 258.44,184.33 260.73,184.03 263.03,183.73 265.32,183.43 267.61,183.13 269.91,182.83 272.20,182.53 274.49,182.22 276.79,181.92 279.08,181.62 281.37,181.32 283.67,181.02 285.96,180.72 288.25,180.42 290.55,180.12 292.84,179.82 295.13,179.52 297.43,179.22 299.72,178.91 302.01,178.61 304.31,178.31 306.60,178.01 308.89,177.71 311.19,177.41 313.48,177.11 315.77,176.81 318.07,176.51 320.36,176.21 322.65,175.91 324.95,175.61 327.24,175.31 329.53,175.00 331.83,174.70 334.12,174.40 336.41,174.10 338.71,173.80 341.00,173.50" fill="none" stroke="#00ffff" stroke-width="0.95" stroke-dasharray="5.2 1.5 1 1.5"/>
<polyline clip-path="url(#cin)" points="65.80,209.60 68.09,209.30 70.39,209.00 72.68,208.70 74.97,208.40 77.27,208.10 79.56,207.79 81.85,207.49 84.15,207.19 86.44,206.89 88.73,206.59 91.03,206.29 93.32,205.99 95.61,205.69 97.91,205.39 100.20,205.09 102.49,204.79 104.79,204.49 107.08,204.19 109.37,203.88 111.67,203.58 113.96,203.28 116.25,202.98 118.55,202.68 120.84,202.38 123.13,202.08 125.43,201.78 127.72,201.48 130.01,201.18 132.31,200.88 134.60,200.57 136.89,200.27 139.19,199.97 141.48,199.67 143.77,199.37 146.07,199.07 148.36,198.77 150.65,198.47 152.95,198.17 155.24,197.87 157.53,197.57 159.83,197.27 162.12,196.97 164.41,196.66 166.71,196.36 169.00,196.06 171.29,195.76 173.59,195.46 175.88,195.16 178.17,194.86 180.47,194.56 182.76,194.26 185.05,193.96 187.35,193.66 189.64,193.35 191.93,193.05 194.23,192.75 196.52,192.45 198.81,192.15 201.11,191.85 203.40,191.55 205.69,191.25 207.99,190.95 210.28,190.65 212.57,190.35 214.87,190.05 217.16,189.75 219.45,189.44 221.75,189.14 224.04,188.84 226.33,188.54 228.63,188.24 230.92,187.94 233.21,187.64 235.51,187.34 237.80,187.04 240.09,186.74 242.39,186.44 244.68,186.13 246.97,185.83 249.27,185.53 251.56,185.23 253.85,184.93 256.15,184.63 258.44,184.33 260.73,184.03 263.03,183.73 265.32,183.43 267.61,183.13 269.91,182.83 272.20,182.53 274.49,182.22 276.79,181.92 279.08,181.62 281.37,181.32 283.67,181.02 285.96,180.72 288.25,180.42 290.55,180.12 292.84,179.82 295.13,179.52 297.43,179.22 299.72,178.91 302.01,178.61 304.31,178.31 306.60,178.01 308.89,177.71 311.19,177.41 313.48,177.11 315.77,176.81 318.07,176.51 320.36,176.21 322.65,175.91 324.95,175.61 327.24,175.31 329.53,175.00 331.83,174.70 334.12,174.40 336.41,174.10 338.71,173.80 341.00,173.50" fill="none" stroke="#00ffff" stroke-opacity="0.55" stroke-width="0.95" stroke-dasharray="5.2 1.5 1 1.5"/>
<polyline points="65.80,140.28 68.09,139.39 70.39,138.50 72.68,137.61 74.97,136.71 77.27,135.81 79.56,134.91 81.85,134.01 84.15,133.10 86.44,132.20 88.73,131.29 91.03,130.38 93.32,129.47 95.61,128.56 97.91,127.65 100.20,126.74 102.49,125.83 104.79,124.91 107.08,124.00 109.37,123.09 111.67,122.17 113.96,121.26 116.25,120.34 118.55,119.43 120.84,118.51 123.13,117.60 125.43,116.68 127.72,115.77 130.01,114.86 132.31,113.94 134.60,113.03 136.89,112.11 139.19,111.20 141.48,110.29 143.77,109.38 146.07,108.47 148.36,107.55 150.65,106.64 152.95,105.73 155.24,104.82 157.53,103.91 159.83,103.01 162.12,102.10 164.41,101.19 166.71,100.28 169.00,99.38 171.29,98.47 173.59,97.57 175.88,96.67 178.17,95.76 180.47,94.86 182.76,93.96 185.05,93.06 187.35,92.16 189.64,91.26 191.93,90.36 194.23,89.47 196.52,88.57 198.81,87.68 201.11,86.78 203.40,85.89 205.69,85.00 207.99,84.10 210.28,83.21 212.57,82.32 214.87,81.43 217.16,80.55 219.45,79.66 221.75,78.77 224.04,77.89 226.33,77.00 228.63,76.12 230.92,75.24 233.21,74.36 235.51,73.48 237.80,72.60 240.09,71.72 242.39,70.84 244.68,69.96 246.97,69.09 249.27,68.21 251.56,67.34 253.85,66.47 256.15,65.60 258.44,64.73 260.73,63.86 263.03,62.99 265.32,62.12 267.61,61.25 269.91,60.39 272.20,59.52 274.49,58.66 276.79,57.80 279.08,56.93 281.37,56.07 283.67,55.21 285.96,54.36 288.25,53.50 290.55,52.64 292.84,51.79 295.13,50.93 297.43,50.08 299.72,49.22 302.01,48.37 304.31,47.52 306.60,46.67 308.89,45.82 311.19,44.98 313.48,44.13 315.77,43.28 318.07,42.44 320.36,41.60 322.65,40.75 324.95,39.91 327.24,39.07 329.53,38.23 331.83,37.39 334.12,36.56 336.41,35.72 338.71,34.88 341.00,34.05" fill="none" stroke="#000" stroke-width="0.65" stroke-dasharray="1.8 1.5 1.8 4.9"/>
<polyline points="65.80,200.44 68.09,199.96 70.39,199.49 72.68,199.01 74.97,198.54 77.27,198.07 79.56,197.60 81.85,197.13 84.15,196.66 86.44,196.19 88.73,195.73 91.03,195.26 93.32,194.80 95.61,194.34 97.91,193.88 100.20,193.42 102.49,192.96 104.79,192.50 107.08,192.05 109.37,191.60 111.67,191.14 113.96,190.69 116.25,190.25 118.55,189.80 120.84,189.35 123.13,188.91 125.43,188.47 127.72,188.03 130.01,187.59 132.31,187.15 134.60,186.72 136.89,186.28 139.19,185.85 141.48,185.42 143.77,184.99 146.07,184.57 148.36,184.14 150.65,183.72 152.95,183.30 155.24,182.88 157.53,182.46 159.83,182.05 162.12,181.63 164.41,181.22 166.71,180.81 169.00,180.40 171.29,180.00 173.59,179.59 175.88,179.19 178.17,178.79 180.47,178.39 182.76,178.00 185.05,177.60 187.35,177.21 189.64,176.82 191.93,176.43 194.23,176.05 196.52,175.66 198.81,175.28 201.11,174.90 203.40,174.53 205.69,174.15 207.99,173.78 210.28,173.41 212.57,173.04 214.87,172.67 217.16,172.30 219.45,171.94 221.75,171.58 224.04,171.22 226.33,170.87 228.63,170.51 230.92,170.16 233.21,169.81 235.51,169.46 237.80,169.12 240.09,168.77 242.39,168.43 244.68,168.09 246.97,167.75 249.27,167.42 251.56,167.09 253.85,166.76 256.15,166.43 258.44,166.10 260.73,165.78 263.03,165.46 265.32,165.14 267.61,164.82 269.91,164.51 272.20,164.19 274.49,163.88 276.79,163.57 279.08,163.27 281.37,162.96 283.67,162.66 285.96,162.36 288.25,162.07 290.55,161.77 292.84,161.48 295.13,161.19 297.43,160.90 299.72,160.61 302.01,160.33 304.31,160.05 306.60,159.77 308.89,159.49 311.19,159.22 313.48,158.94 315.77,158.67 318.07,158.41 320.36,158.14 322.65,157.88 324.95,157.62 327.24,157.36 329.53,157.10 331.83,156.85 334.12,156.60 336.41,156.35 338.71,156.10 341.00,155.85" fill="none" stroke="#000" stroke-width="0.65" stroke-dasharray="1.8 1.5 1.8 4.9"/>
<polyline points="65.80,137.66 68.09,136.60 70.39,135.54 72.68,134.47 74.97,133.40 77.27,132.34 79.56,131.27 81.85,130.20 84.15,129.14 86.44,128.07 88.73,127.00 91.03,125.93 93.32,124.86 95.61,123.80 97.91,122.73 100.20,121.67 102.49,120.60 104.79,119.54 107.08,118.48 109.37,117.42 111.67,116.36 113.96,115.30 116.25,114.24 118.55,113.18 120.84,112.13 123.13,111.08 125.43,110.03 127.72,108.98 130.01,107.93 132.31,106.88 134.60,105.84 136.89,104.79 139.19,103.75 141.48,102.71 143.77,101.68 146.07,100.64 148.36,99.61 150.65,98.57 152.95,97.54 155.24,96.52 157.53,95.49 159.83,94.47 162.12,93.44 164.41,92.42 166.71,91.41 169.00,90.39 171.29,89.38 173.59,88.36 175.88,87.35 178.17,86.35 180.47,85.34 182.76,84.34 185.05,83.34 187.35,82.34 189.64,81.34 191.93,80.34 194.23,79.35 196.52,78.36 198.81,77.37 201.11,76.38 203.40,75.40 205.69,74.42 207.99,73.44 210.28,72.46 212.57,71.48 214.87,70.51 217.16,69.54 219.45,68.57 221.75,67.60 224.04,66.63 226.33,65.67 228.63,64.71 230.92,63.75 233.21,62.79 235.51,61.84 237.80,60.88 240.09,59.93 242.39,58.98 244.68,58.04 246.97,57.09 249.27,56.15 251.56,55.21 253.85,54.28 256.15,53.34 258.44,52.41 260.73,51.48 263.03,50.55 265.32,49.62 267.61,48.70 269.91,47.77 272.20,46.85 274.49,45.93 276.79,45.02 279.08,44.10 281.37,43.19 283.67,42.28 285.96,41.38 288.25,40.47 290.55,39.57 292.84,38.67 295.13,37.77 297.43,36.87 299.72,35.98 302.01,35.08 304.31,34.19 306.60,33.31 308.89,32.42 311.19,31.54 313.48,30.66 315.77,29.78 318.07,28.90 320.36,28.02 322.65,27.15 324.95,26.28 327.24,25.41 329.53,24.55 331.83,23.68 334.12,22.82 336.41,21.96 338.71,21.10 341.00,20.25" fill="none" stroke="#ff4d00" stroke-width="0.7" stroke-dasharray="1 1.5 5.2 1.5 1 1.5"/>
<path d="M65.80 210.1v-5.3M65.80 20.8v5.3M99.24 210.1v-2.7M99.24 20.8v2.7M118.81 210.1v-2.7M118.81 20.8v2.7M132.69 210.1v-2.7M132.69 20.8v2.7M143.46 210.1v-2.7M143.46 20.8v2.7M152.25 210.1v-2.7M152.25 20.8v2.7M159.69 210.1v-2.7M159.69 20.8v2.7M166.13 210.1v-2.7M166.13 20.8v2.7M171.82 210.1v-2.7M171.82 20.8v2.7M176.90 210.1v-5.3M176.90 20.8v5.3M210.34 210.1v-2.7M210.34 20.8v2.7M229.91 210.1v-2.7M229.91 20.8v2.7M243.79 210.1v-2.7M243.79 20.8v2.7M254.56 210.1v-2.7M254.56 20.8v2.7M263.35 210.1v-2.7M263.35 20.8v2.7M270.79 210.1v-2.7M270.79 20.8v2.7M277.23 210.1v-2.7M277.23 20.8v2.7M282.92 210.1v-2.7M282.92 20.8v2.7M288.00 210.1v-5.3M288.00 20.8v5.3M321.44 210.1v-2.7M321.44 20.8v2.7M341.01 210.1v-2.7M341.01 20.8v2.7M65.8 208.10h2.7M341.0 208.10h-2.7M65.8 180.10h5.3M341.0 180.10h-5.3M65.8 152.10h2.7M341.0 152.10h-2.7M65.8 124.10h5.3M341.0 124.10h-5.3M65.8 96.10h2.7M341.0 96.10h-2.7M65.8 68.10h5.3M341.0 68.10h-5.3M65.8 40.10h2.7M341.0 40.10h-2.7" fill="none" stroke="#000" stroke-width="0.9"/>
<rect x="65.8" y="20.8" width="275.20" height="189.30" fill="none" stroke="#000" stroke-width="1.3"/>
<text x="67.7" y="234.0" font-size="17.5" text-anchor="middle" >100</text>
<text x="178.7" y="234.0" font-size="17.5" text-anchor="middle" >1000</text>
<text x="290.3" y="234.0" font-size="17.5" text-anchor="middle" >10000</text>
<text x="203.4" y="260.8" font-size="17.5" text-anchor="middle" >t</text>
<text x="28.8" y="187.7" font-size="17.5">10<tspan font-size="13.5" dx="-0.8" dy="-8.3">2</tspan></text>
<text x="28.8" y="131.7" font-size="17.5">10<tspan font-size="13.5" dx="-0.8" dy="-8.3">4</tspan></text>
<text x="28.8" y="75.7" font-size="17.5">10<tspan font-size="13.5" dx="-0.8" dy="-8.3">6</tspan></text>
<text transform="translate(20.0 115.5) rotate(-90)" font-size="17.8" text-anchor="middle">moments</text>
<text x="300.6" y="95.5" font-size="17.5" text-anchor="end">= 0.5, <tspan dy="1.4">&lt;</tspan><tspan dy="-1.4">x</tspan><tspan dy="1.4">&gt;</tspan></text>
<path transform="translate(205.7 95.5)" d="M9.3 -8.0C8.8 -5.0 6.8 0 3.6 0C1.6 0 0.6 -1.6 0.6 -3.9C0.6 -6.2 1.8 -7.9 3.8 -7.9C6.4 -7.9 7.2 -4.2 7.8 -2C8.3 -0.3 9.2 0.3 10.9 -0.6" fill="none" stroke="#000" stroke-width="1.25" stroke-linecap="round" stroke-linejoin="round"/>
<text x="300.6" y="114.7" font-size="17.5" text-anchor="end">= 0.5 <tspan dy="1.4">&lt;</tspan><tspan dy="-1.4">x</tspan><tspan font-size="15" dy="-9.0">2</tspan><tspan dy="10.4">&gt;</tspan></text>
<path transform="translate(202.8 114.7)" d="M9.3 -8.0C8.8 -5.0 6.8 0 3.6 0C1.6 0 0.6 -1.6 0.6 -3.9C0.6 -6.2 1.8 -7.9 3.8 -7.9C6.4 -7.9 7.2 -4.2 7.8 -2C8.3 -0.3 9.2 0.3 10.9 -0.6" fill="none" stroke="#000" stroke-width="1.25" stroke-linecap="round" stroke-linejoin="round"/>
<text x="300.6" y="131.0" font-size="17.5" text-anchor="end">= 0.995, <tspan dy="1.4">&lt;</tspan><tspan dy="-1.4">x</tspan><tspan dy="1.4">&gt;</tspan></text>
<path transform="translate(186.1 131.0)" d="M9.3 -8.0C8.8 -5.0 6.8 0 3.6 0C1.6 0 0.6 -1.6 0.6 -3.9C0.6 -6.2 1.8 -7.9 3.8 -7.9C6.4 -7.9 7.2 -4.2 7.8 -2C8.3 -0.3 9.2 0.3 10.9 -0.6" fill="none" stroke="#000" stroke-width="1.25" stroke-linecap="round" stroke-linejoin="round"/>
<text x="300.6" y="149.9" font-size="17.5" text-anchor="end">= 0.995, <tspan dy="1.4">&lt;</tspan><tspan dy="-1.4">x</tspan><tspan font-size="15" dy="-9.0">2</tspan><tspan dy="10.4">&gt;</tspan></text>
<path transform="translate(178.0 149.9)" d="M9.3 -8.0C8.8 -5.0 6.8 0 3.6 0C1.6 0 0.6 -1.6 0.6 -3.9C0.6 -6.2 1.8 -7.9 3.8 -7.9C6.4 -7.9 7.2 -4.2 7.8 -2C8.3 -0.3 9.2 0.3 10.9 -0.6" fill="none" stroke="#000" stroke-width="1.25" stroke-linecap="round" stroke-linejoin="round"/>
</svg></body></html>
